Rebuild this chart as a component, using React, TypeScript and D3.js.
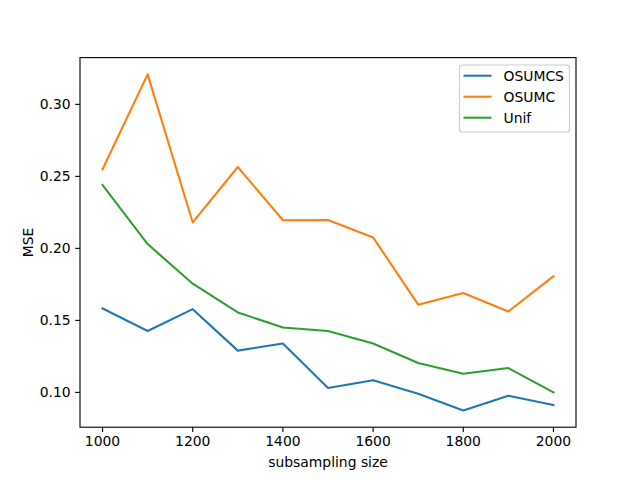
import React from "react";
import * as d3 from "d3";

const sizes = [1000, 1100, 1200, 1300, 1400, 1500, 1600, 1700, 1800, 1900, 2000];
const osumcs = [0.1583, 0.1426, 0.1578, 0.1290, 0.1340, 0.1030, 0.1085, 0.0991, 0.0875, 0.0977, 0.0912];
const osumc = [0.2549, 0.3208, 0.2180, 0.2565, 0.2195, 0.2197, 0.2076, 0.1609, 0.1690, 0.1562, 0.1806];
const unif = [0.2440, 0.2030, 0.1755, 0.1555, 0.1451, 0.1426, 0.1340, 0.1204, 0.1130, 0.1169, 0.1000];
const seriesNames = ["OSUMCS", "OSUMC", "Unif"];
const seriesColors = ["#1f77b4", "#ff7f0e", "#2ca02c"];
const xTicks = [1000, 1200, 1400, 1600, 1800, 2000];
const yTicks = [0.10, 0.15, 0.20, 0.25, 0.30];

export default function App() {
  const W = 640, H = 480;
  const L = 80, R = 576, T = 57.6, B = 427.2;
  const all = [...osumcs, ...osumc, ...unif];
  const ymin = d3.min(all)!, ymax = d3.max(all)!;
  const ypad = (ymax - ymin) * 0.05;
  const x = d3.scaleLinear().domain([950, 2050]).range([L, R]);
  const y = d3.scaleLinear().domain([ymin - ypad, ymax + ypad]).range([B, T]);
  const line = d3.line<number>().x((_, i) => x(sizes[i])).y((d) => y(d));
  const data = [osumcs, osumc, unif];
  const font = "DejaVu Sans, sans-serif";
  const fs = 13.9;
  return (
    <svg width={W} height={H} style={{ position: "absolute", left: 0, top: 0 }} fontFamily={font}>
      <rect x={0} y={0} width={W} height={H} fill="white" />
      {data.map((d, k) => (
        <path key={k} d={line(d)!} fill="none" stroke={seriesColors[k]} strokeWidth={2.08} strokeLinejoin="round" strokeLinecap="square" />
      ))}
      <rect x={L} y={T} width={R - L} height={B - T} fill="none" stroke="black" strokeWidth={1.11} />
      {xTicks.map((t) => (
        <g key={t}>
          <line x1={x(t)} x2={x(t)} y1={B} y2={B + 4.86} stroke="black" strokeWidth={1.11} />
          <text x={x(t)} y={B + 4.86 + 3.5 + fs * 0.76} textAnchor="middle" fontSize={fs}>{t}</text>
        </g>
      ))}
      {yTicks.map((t) => (
        <g key={t}>
          <line x1={L - 4.86} x2={L} y1={y(t)} y2={y(t)} stroke="black" strokeWidth={1.11} />
          <text x={L - 4.86 - 3.5 - 1} y={y(t)} dy="0.36em" textAnchor="end" fontSize={fs}>{t.toFixed(2)}</text>
        </g>
      ))}
      <text x={(L + R) / 2} y={467} textAnchor="middle" fontSize={fs}>subsampling size</text>
      <text transform={`translate(32.5, ${(T + B) / 2}) rotate(-90)`} textAnchor="middle" fontSize={fs}>MSE</text>
      <g>
        <rect x={459.5} y={65} width={110} height={67} rx={2.8} fill="white" fillOpacity={0.8} stroke="#cccccc" strokeWidth={1.11} />
        {seriesNames.map((n, k) => (
          <g key={n}>
            <line x1={463.5} x2={491.5} y1={75.7 + k * 21} y2={75.7 + k * 21} stroke={seriesColors[k]} strokeWidth={2.08} />
            <text x={503.5} y={75.7 + k * 21} dy="0.36em" fontSize={fs}>{n}</text>
          </g>
        ))}
      </g>
    </svg>
  );
}
